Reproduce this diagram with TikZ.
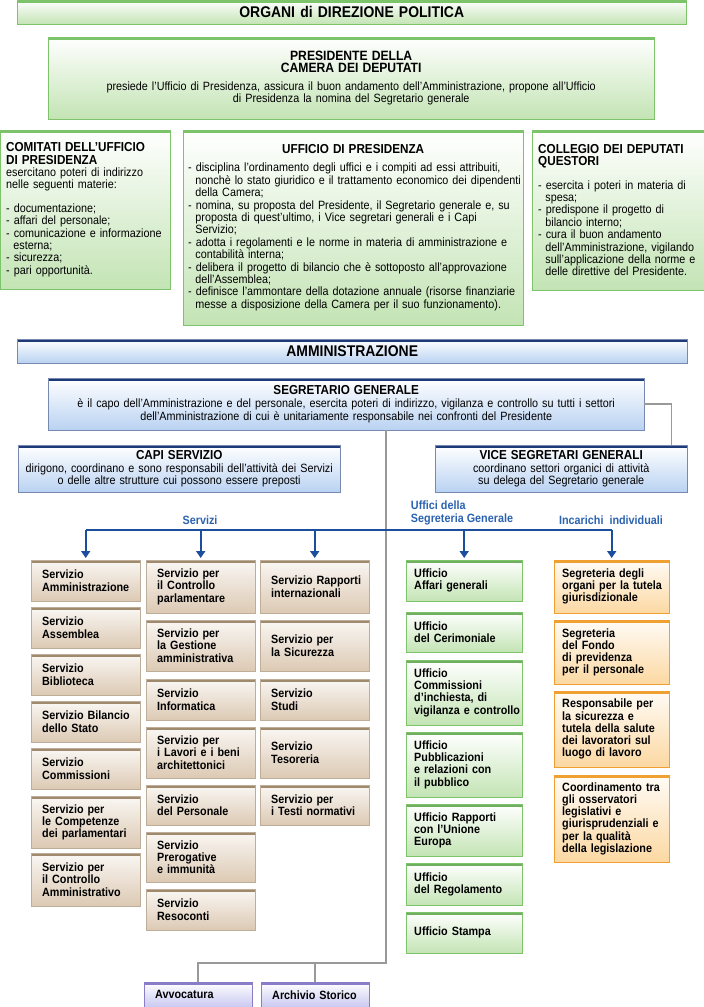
\documentclass[tikz,border=0pt]{standalone}
\usepackage{fontspec}
\setmainfont{Liberation Sans}[FakeStretch=0.9]
\usetikzlibrary{arrows.meta,shadows,calc}

\definecolor{grnLine}{HTML}{7CC36A}
\definecolor{grnFill}{HTML}{C3E4B4}
\definecolor{bluLine}{HTML}{1C3A78}
\definecolor{bluFill}{HTML}{B9D2F2}
\definecolor{tanLine}{HTML}{A08A6E}
\definecolor{tanFill}{HTML}{DCC9B3}
\definecolor{oraLine}{HTML}{F0A030}
\definecolor{oraFill}{HTML}{FCD8A2}
\definecolor{purLine}{HTML}{8A7CC8}
\definecolor{purFill}{HTML}{C9C8F2}
\definecolor{railBlue}{HTML}{1B4F9E}
\definecolor{labBlue}{HTML}{2A62B0}

\tikzset{
  base/.style={rectangle, anchor=north west, inner xsep=7pt, inner ysep=2pt,
    drop shadow={opacity=.25, shadow xshift=1pt, shadow yshift=-1pt}},
  bar/.style={path picture={\fill[#1] (path picture bounding box.north west)
    rectangle ([yshift=-3pt]path picture bounding box.north east);}},
  bigGreen/.style={base, draw=grnLine, top color=white, bottom color=grnFill, bar=grnLine,
    font=\fontsize{12}{12.4}\selectfont},
  bigBlue/.style={base, draw=bluLine!60, top color=white, bottom color=bluFill, bar=bluLine,
    font=\fontsize{12}{12.6}\selectfont, align=center},
  cell/.style={base, inner xsep=11pt, font=\bfseries\fontsize{12}{12.2}\selectfont, align=left},
  tan/.style={cell, draw=tanLine!70, top color=white!85!tanFill, bottom color=tanFill, bar=tanLine,
    text width=87},
  ufficio/.style={cell, inner xsep=8pt, draw=grnLine, top color=white, bottom color=grnFill,
    bar=grnLine!90!black, text width=100},
  incarico/.style={cell, inner xsep=8pt, draw=oraLine, top color=white!90!oraFill, bottom color=oraFill,
    bar=oraLine, text width=99},
  archive/.style={cell, draw=purLine, top color=white, bottom color=purFill, bar=purLine,
    text width=86, minimum height=25},
  conn/.style={draw=gray!80, line width=1.6pt},
  rail/.style={draw=railBlue, line width=2pt},
  drop/.style={rail, -{Triangle[width=9pt,length=7pt]}, shorten >=2pt},
  lab/.style={font=\bfseries\fontsize{12}{12.5}\selectfont, text=labBlue, align=left}
}
\newcommand{\hd}{\bfseries\fontsize{13}{14}\selectfont}
\newcommand{\ind}{\hspace*{0.6em}}

\begin{document}
\begin{tikzpicture}[x=1pt, y=-1pt]
  \useasboundingbox (0,0) rectangle (704,1007);

  % organi politici
  \node[bigGreen, align=center, text width=655, minimum height=24,
    font=\bfseries\fontsize{15.5}{16}\selectfont] (organi) at (17,0) {ORGANI di DIREZIONE POLITICA};
  \node[bigGreen, align=center, text width=592, minimum height=82] (pres) at (48,37)
    {{\bfseries\fontsize{13.5}{13.5}\selectfont PRESIDENTE DELLA\\CAMERA DEI DEPUTATI}\\[5pt]
     presiede l’Ufficio di Presidenza, assicura il buon andamento dell’Amministrazione, propone all’Ufficio\\
     di Presidenza la nomina del Segretario generale};
  \node[bigGreen, align=left, text width=158, minimum height=159, inner xsep=6pt] (comitati) at (0,130)
    {{\hd COMITATI DELL’UFFICIO\\DI PRESIDENZA}\\
     esercitano poteri di indirizzo\\nelle seguenti materie:\\[11pt]
     - documentazione;\\- affari del personale;\\\mbox{- comunicazione e informazione}\\
     \ind esterna;\\- sicurezza;\\- pari opportunità.\\[10pt]};
  \node[bigGreen, align=left, text width=330, minimum height=195, inner xsep=5pt] (ufficio) at (183,130)
    {\makebox[330pt]{\hd UFFICIO DI PRESIDENZA}\\[6pt]
     - disciplina l’ordinamento degli uffici e i compiti ad essi attribuiti,\\
     \mbox{\ind nonchè lo stato giuridico e il trattamento economico dei dipendenti}\\
     \ind della Camera;\\
     - nomina, su proposta del Presidente, il Segretario generale e, su\\
     \ind proposta di quest’ultimo, i Vice segretari generali e i Capi\\
     \ind Servizio;\\
     - adotta i regolamenti e le norme in materia di amministrazione e\\
     \ind contabilità interna;\\
     \mbox{- delibera il progetto di bilancio che è sottoposto all’approvazione}\\
     \ind dell’Assemblea;\\
     \mbox{- definisce l’ammontare della dotazione annuale (risorse finanziarie}\\
     \mbox{\ind messe a disposizione della Camera per il suo funzionamento).}};
  \node[bigGreen, align=left, text width=160, minimum height=160, inner xsep=6pt] (questori) at (532,130)
    {{\hd COLLEGIO DEI DEPUTATI\\QUESTORI}\\[11pt]
     - esercita i poteri in materia di\\\ind spesa;\\
     - predispone il progetto di\\\ind bilancio interno;\\
     - cura il buon andamento\\\mbox{\ind dell’Amministrazione, vigilando}\\
     \mbox{\ind sull’applicazione della norme e}\\\ind delle direttive del Presidente.\\[12pt]};

  % amministrazione
  \node[bigBlue, text width=656, minimum height=24,
    font=\bfseries\fontsize{15.5}{16}\selectfont] (amm) at (17,339) {AMMINISTRAZIONE};
  \node[bigBlue, text width=582, minimum height=52] (seg) at (48,378)
    {{\hd SEGRETARIO GENERALE}\\
     \mbox{è il capo dell’Amministrazione e del personale, esercita poteri di indirizzo, vigilanza e controllo su tutti i settori}\\
     dell’Amministrazione di cui è unitariamente responsabile nei confronti del Presidente};
  \node[bigBlue, text width=314, minimum height=47, inner xsep=4pt] (capi) at (18,445)
    {{\hd CAPI SERVIZIO}\\
     \mbox{dirigono, coordinano e sono responsabili dell’attività dei Servizi}\\
     o delle altre strutture cui possono essere preposti};
  \node[bigBlue, text width=238, minimum height=47] (vice) at (435,445)
    {{\hd VICE SEGRETARI GENERALI}\\
     coordinano settori organici di attività\\su delega del Segretario generale};

  % servizi, colonna 1
  \node[tan, minimum height=41] (sAmm) at (31,560) {Servizio\\\mbox{Amministrazione}};
  \node[tan, minimum height=41] (sAss) at (31,607) {Servizio\\Assemblea};
  \node[tan, minimum height=41] (sBib) at (31,654) {Servizio\\Biblioteca};
  \node[tan, minimum height=41] (sBil) at (31,701) {\mbox{Servizio Bilancio}\\dello Stato};
  \node[tan, minimum height=41] (sCom) at (31,748) {Servizio\\Commissioni};
  \node[tan, minimum height=52] (sCmp) at (31,796) {Servizio per\\\mbox{le Competenze}\\\mbox{dei parlamentari}};
  \node[tan, minimum height=53] (sCtA) at (31,853) {Servizio per\\il Controllo\\\mbox{Amministrativo}};
  % servizi, colonna 2
  \node[tan, minimum height=53] (sCtP) at (146,560) {Servizio per\\il Controllo\\parlamentare};
  \node[tan, minimum height=51] (sGes) at (146,620) {Servizio per\\la Gestione\\\mbox{amministrativa}};
  \node[tan, minimum height=41] (sInf) at (146,679) {Servizio\\Informatica};
  \node[tan, minimum height=51] (sLav) at (146,727) {Servizio per\\\mbox{i Lavori e i beni}\\\mbox{architettonici}};
  \node[tan, minimum height=40] (sPer) at (146,785) {Servizio\\del Personale};
  \node[tan, minimum height=50] (sPre) at (146,832) {Servizio\\Prerogative\\e immunità};
  \node[tan, minimum height=41] (sRes) at (146,889) {Servizio\\Resoconti};
  % servizi, colonna 3
  \node[tan, minimum height=53] (sRap) at (260,560) {\mbox{Servizio Rapporti}\\\mbox{internazionali}};
  \node[tan, minimum height=51] (sSic) at (260,620) {Servizio per\\la Sicurezza};
  \node[tan, minimum height=41] (sStu) at (260,679) {Servizio\\Studi};
  \node[tan, minimum height=51] (sTes) at (260,727) {Servizio\\Tesoreria};
  \node[tan, minimum height=40] (sTst) at (260,785) {Servizio per\\\mbox{i Testi normativi}};

  % uffici della segreteria generale
  \node[ufficio, minimum height=41] (uAff) at (406,560) {Ufficio\\Affari generali};
  \node[ufficio, minimum height=40] (uCer) at (406,612) {Ufficio\\del Cerimoniale};
  \node[ufficio, minimum height=65] (uInc) at (406,660) {Ufficio\\Commissioni\\d’inchiesta, di\\\mbox{vigilanza e controllo}};
  \node[ufficio, minimum height=65] (uPub) at (406,732) {Ufficio\\Pubblicazioni\\e relazioni con\\il pubblico};
  \node[ufficio, minimum height=52] (uUE)  at (406,804) {\mbox{Ufficio Rapporti}\\con l’Unione\\Europa};
  \node[ufficio, minimum height=42] (uReg) at (406,863) {Ufficio\\\mbox{del Regolamento}};
  \node[ufficio, minimum height=41] (uSta) at (406,912) {Ufficio Stampa};

  % incarichi individuali
  \node[incarico, minimum height=53] (iTut) at (554,560) {\mbox{Segreteria degli}\\\mbox{organi per la tutela}\\giurisdizionale};
  \node[incarico, minimum height=64] (iFon) at (554,620) {Segreteria\\del Fondo\\di previdenza\\per il personale};
  \node[incarico, minimum height=76] (iSic) at (554,691) {\mbox{Responsabile per}\\la sicurezza e\\\mbox{tutela della salute}\\\mbox{dei lavoratori sul}\\luogo di lavoro};
  \node[incarico, minimum height=87] (iOss) at (554,775) {\mbox{Coordinamento tra}\\gli osservatori\\legislativi e\\\mbox{giurisprudenziali e}\\per la qualità\\\mbox{della legislazione}};

  % avvocatura e archivio
  \node[archive] (avv)  at (144,982) {Avvocatura};
  \node[archive] (arch) at (261,982) {\mbox{Archivio Storico}};

  % collegamenti grigi
  \coordinate (bend) at (386,963);
  \draw[conn] (seg.south -| bend) -- (bend) -| (avv.north);
  \draw[conn] (bend -| arch.north) -- (arch.north);
  \draw[conn] (seg.east) -| ($(vice.north east)+(-16,0)$);

  % binario blu
  \coordinate (railY) at (0,530);
  \draw[rail] (railY -| sAmm.north) -- (railY -| iTut.north);
  \foreach \n in {sAmm,sCtP,sRap,uAff,iTut}
    \draw[drop] (railY -| \n.north) -- (\n.north);
  \node[lab] (lServ) at (200,520) {Servizi};
  \node[lab] (lUff) at (462,513) {Uffici della\\Segreteria Generale};
  \node[lab] (lInc) at (611,520) {Incarichi\ \ individuali};
\end{tikzpicture}
\end{document}
